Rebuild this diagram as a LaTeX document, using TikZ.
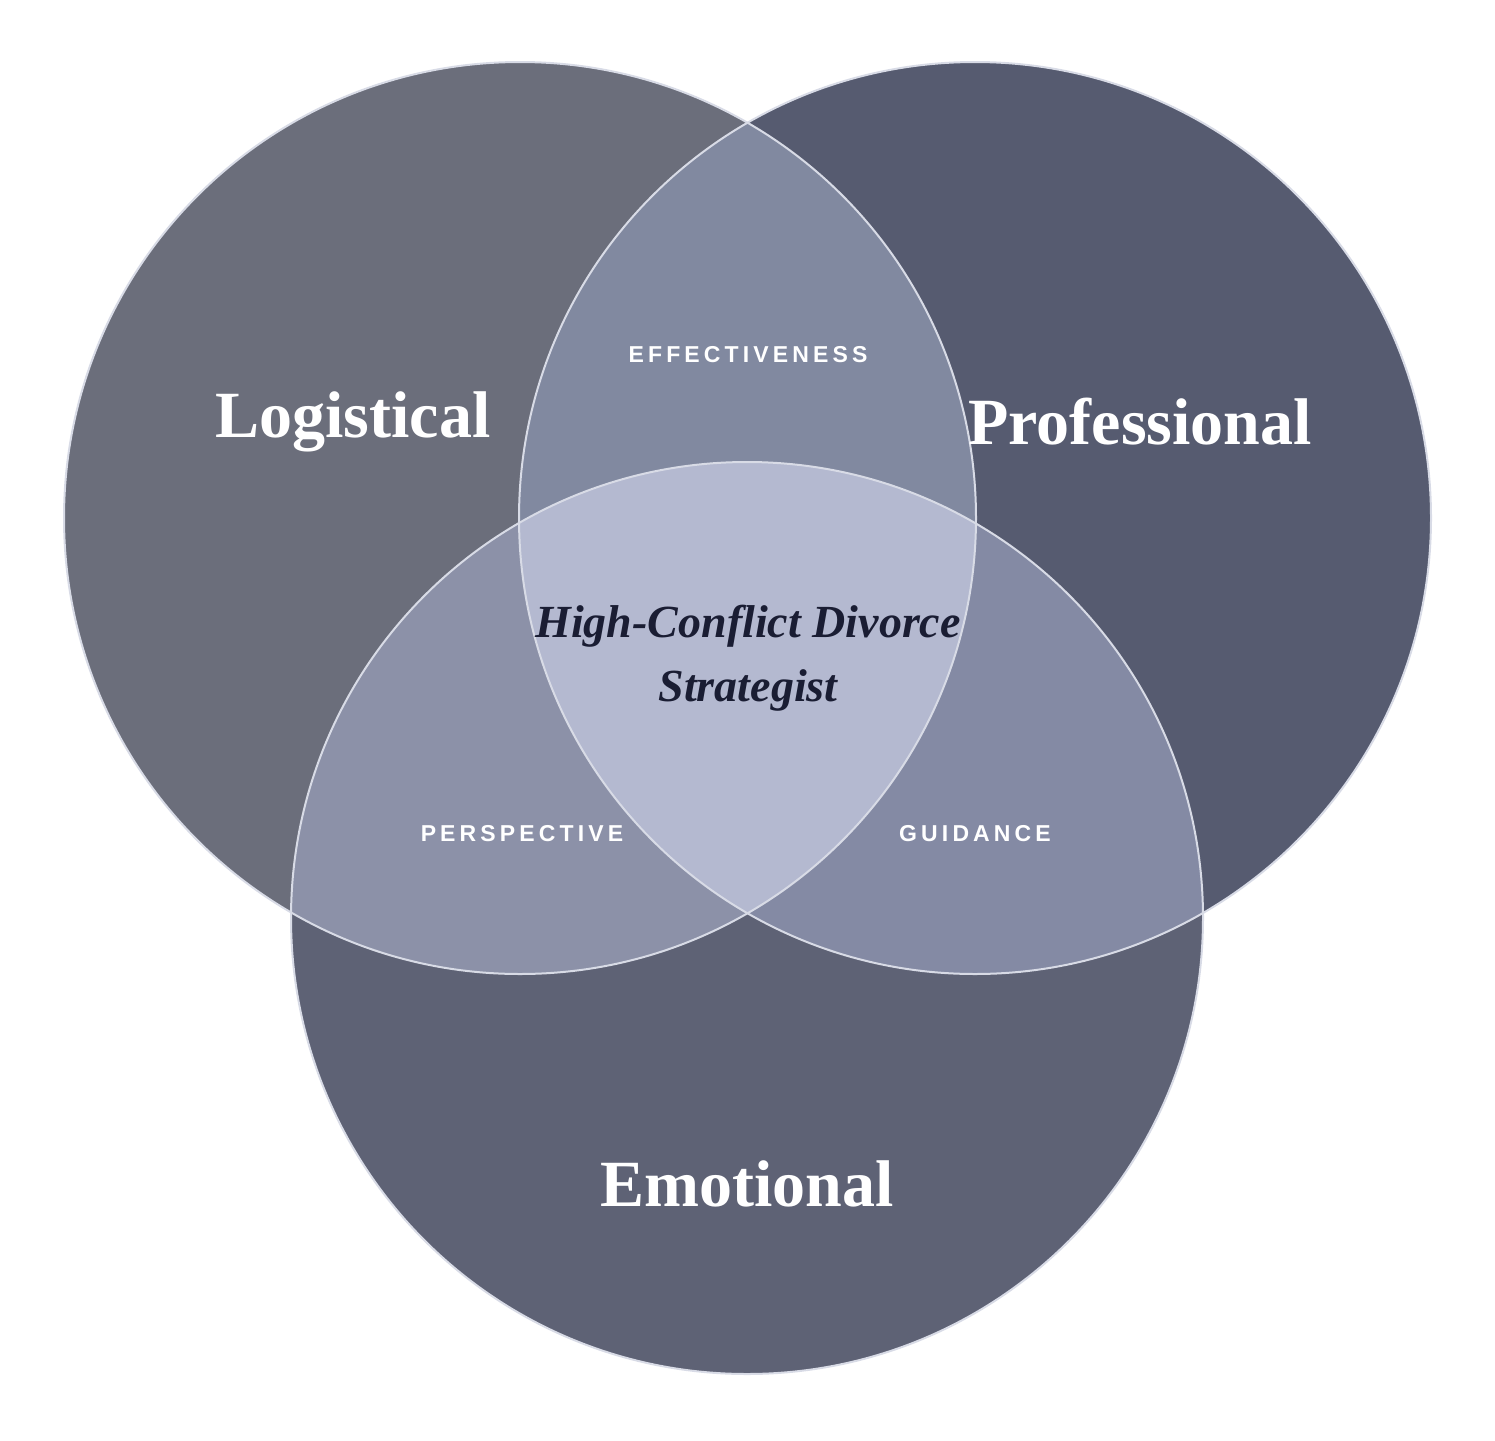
\documentclass[tikz,border=0pt]{standalone}
\usepackage{fontspec}
\setmainfont{Liberation Serif}
\newfontfamily\tagfont[LetterSpace=18]{Liberation Sans}
\usepackage{tikz}

\definecolor{logicol}{HTML}{6B6E7B}
\definecolor{profcol}{HTML}{565B70}
\definecolor{emocol}{HTML}{5E6275}
\definecolor{lpcol}{HTML}{8189A0}
\definecolor{lecol}{HTML}{8C91A8}
\definecolor{pecol}{HTML}{848AA4}
\definecolor{midcol}{HTML}{B4B9D0}
\definecolor{rimcol}{HTML}{D8DBE6}
\definecolor{inkcol}{HTML}{1A1D33}

\tikzset{
  big/.style={text=white,font=\bfseries\fontsize{66}{70}\selectfont},
  tag/.style={text=white,font=\tagfont\bfseries\fontsize{23}{26}\selectfont},
}

\begin{document}
\begin{tikzpicture}[x=1pt,y=1pt,yscale=-1,xscale=1]
\useasboundingbox (0,0) rectangle (1495,1440);

\fill[logicol] (520,518) circle (456);
\fill[profcol] (975,518) circle (456);
\fill[emocol] (747,918) circle (456);

\begin{scope}
\clip (520,518) circle (456);
\fill[lpcol] (975,518) circle (456);
\fill[lecol] (747,918) circle (456);
\end{scope}

\begin{scope}
\clip (975,518) circle (456);
\fill[pecol] (747,918) circle (456);
\clip (520,518) circle (456);
\fill[midcol] (747,918) circle (456);
\end{scope}

\draw[rimcol,line width=2] (520,518) circle (456);
\draw[rimcol,line width=2] (975,518) circle (456);
\draw[rimcol,line width=2] (747,918) circle (456);

\node (logi) [big] at (353,422) {Logistical};
\node (prof) [big] at (1140,422) {Professional};
\node (emo) [big] at (747,1184) {Emotional};

\node (effect) [tag] at (748,355) {EFFECTIVENESS};
\node (persp) [tag] at (522,834) {PERSPECTIVE};
\node (guide) [tag] at (975,834) {GUIDANCE};

\node (strat) [text=inkcol,align=center,font=\bfseries\itshape\fontsize{46}{64}\selectfont] at (748,658) {High-Conflict Divorce\\Strategist};
\end{tikzpicture}
\end{document}
